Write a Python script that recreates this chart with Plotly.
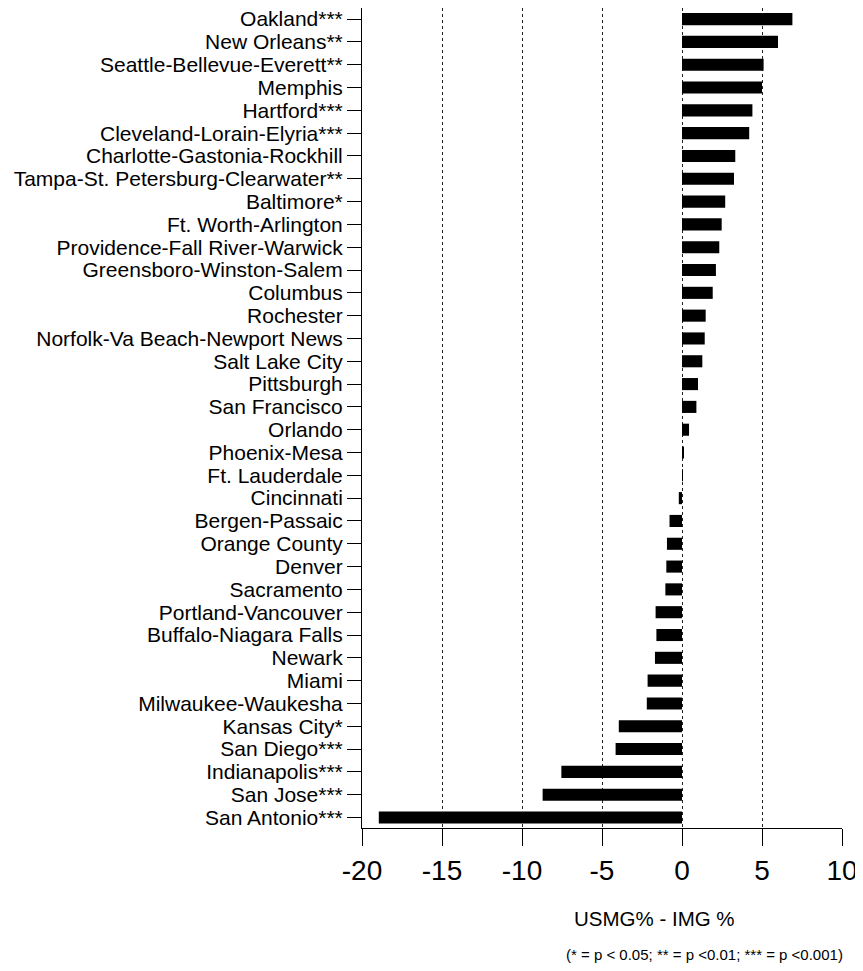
import plotly.graph_objects as go

cities = [
    "Oakland***", "New Orleans**", "Seattle-Bellevue-Everett**", "Memphis", "Hartford***",
    "Cleveland-Lorain-Elyria***", "Charlotte-Gastonia-Rockhill", "Tampa-St. Petersburg-Clearwater**",
    "Baltimore*", "Ft. Worth-Arlington", "Providence-Fall River-Warwick", "Greensboro-Winston-Salem",
    "Columbus", "Rochester", "Norfolk-Va Beach-Newport News", "Salt Lake City", "Pittsburgh",
    "San Francisco", "Orlando", "Phoenix-Mesa", "Ft. Lauderdale", "Cincinnati", "Bergen-Passaic",
    "Orange County", "Denver", "Sacramento", "Portland-Vancouver", "Buffalo-Niagara Falls",
    "Newark", "Miami", "Milwaukee-Waukesha", "Kansas City*", "San Diego***", "Indianapolis***",
    "San Jose***", "San Antonio***",
]
values = [
    6.9, 6.0, 5.1, 5.0, 4.4, 4.2, 3.33, 3.25, 2.7, 2.48, 2.33, 2.12, 1.92, 1.48, 1.42, 1.27,
    1.0, 0.9, 0.44, 0.1, 0.05, -0.2, -0.78, -0.94, -0.98, -1.04, -1.65, -1.6, -1.69, -2.15,
    -2.2, -3.95, -4.15, -7.54, -8.71, -18.95,
]
x_ticks = [-20, -15, -10, -5, 0, 5, 10]
x_title = "USMG% - IMG %"
footnote = "(* = p < 0.05; ** = p <0.01; *** = p <0.001)"

FONT = "Liberation Sans, Arial, Helvetica, sans-serif"

# page body has an 8px margin, so the figure is drawn from (8, 8)
OFF = 8
W, H = 863 - OFF, 971 - OFF
ML, MR, MT, MB = 362 - OFF, 21, 0, 143
PW, PH = W - ML - MR, H - MT - MB


def px_to_paper(x, y):
    # x, y in screen pixels
    x -= OFF
    y -= OFF
    return (x - ML) / PW, (H - y - MB) / PH


fig = go.Figure(go.Bar(
    x=values, y=cities, orientation="h",
    marker=dict(color="black", line=dict(width=0)),
    width=0.53,
))

tx, ty = px_to_paper(654, 918)
fx, fy = px_to_paper(704, 955)

fig.update_layout(
    width=W, height=H,
    margin=dict(l=ML, r=MR, t=MT, b=MB, autoexpand=False),
    paper_bgcolor="white", plot_bgcolor="white",
    showlegend=False,
    font=dict(family=FONT, color="black"),
    xaxis=dict(
        range=[-20, 10], tickmode="array", tickvals=x_ticks, ticktext=[str(v) for v in x_ticks],
        showgrid=True, gridcolor="#222222", griddash="dot", gridwidth=1,
        zeroline=False, showline=True, linecolor="black", linewidth=1,
        ticks="outside", ticklen=17, tickcolor="black", tickwidth=1,
        tickfont=dict(size=28, family=FONT, color="black"),
        automargin=False,
    ),
    yaxis=dict(
        type="category", categoryorder="array", categoryarray=cities[::-1],
        tickmode="array", tickvals=cities, ticktext=cities,
        range=[-0.46, 35.53 - 1 / 22.8],
        showgrid=False, zeroline=False, showline=True, linecolor="black", linewidth=1,
        ticks="outside", ticklen=14, tickcolor="black", tickwidth=1,
        tickfont=dict(size=21, family=FONT, color="black"),
        automargin=False,
    ),
    annotations=[
        dict(text=x_title, x=tx, y=ty, xref="paper", yref="paper", showarrow=False,
             font=dict(size=20.5, family=FONT, color="black"), xanchor="center", yanchor="middle"),
        dict(text=footnote, x=fx, y=fy, xref="paper", yref="paper", showarrow=False,
             font=dict(size=15, family=FONT, color="black"), xanchor="center", yanchor="middle"),
    ],
)

fig.write_html("out.html")
